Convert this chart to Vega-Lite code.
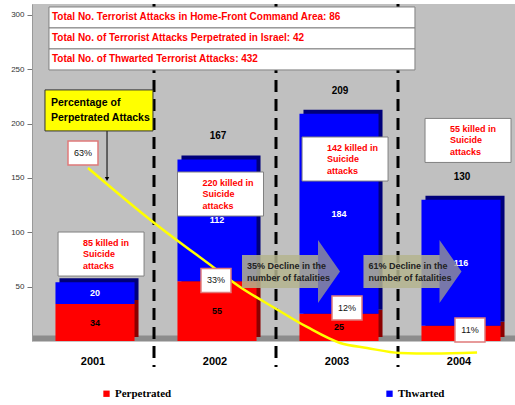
{
  "$schema": "https://vega.github.io/schema/vega-lite/v6.json",
  "width": 483,
  "height": 337,
  "autosize": {"type": "none"},
  "padding": {"left": 32, "top": 4, "right": 0, "bottom": 64},
  "background": "white",
  "config": {"view": {"fill": "#c0c0c0", "stroke": null}, "font": "Liberation Sans"},
  "datasets": {
    "bars": [
      {"year": "2001", "type": "Perpetrated", "count": 34},
      {"year": "2001", "type": "Thwarted", "count": 20},
      {"year": "2002", "type": "Perpetrated", "count": 55},
      {"year": "2002", "type": "Thwarted", "count": 112},
      {"year": "2003", "type": "Perpetrated", "count": 25},
      {"year": "2003", "type": "Thwarted", "count": 184},
      {"year": "2004", "type": "Perpetrated", "count": 14},
      {"year": "2004", "type": "Thwarted", "count": 116}
    ],
    "dividers": [{"u": 1, "v": 310}, {"u": 2, "v": 310}, {"u": 3, "v": 310}],
    "trend": [
      {"u": 0.459, "v": 159.2},
      {"u": 0.992, "v": 109.5},
      {"u": 1.484, "v": 68.1},
      {"u": 1.705, "v": 49.7},
      {"u": 1.975, "v": 31.3},
      {"u": 2.254, "v": 12.9},
      {"u": 2.525, "v": -1.8},
      {"u": 2.746, "v": -6.4},
      {"u": 3.016, "v": -11.0},
      {"u": 3.287, "v": -11.5},
      {"u": 3.648, "v": -10.6}
    ],
    "arrows": [
      {"u": 2.123, "v": 63.9, "label": "35% Decline in the\nnumber of fatalities"},
      {"u": 3.119, "v": 63.9, "label": "61% Decline in the\nnumber of fatalities"}
    ],
    "killed": [
      {"u": 0.566, "v": 80.0, "label": "85 killed in\nSuicide\nattacks"},
      {"u": 1.545, "v": 135.2, "label": "220 killed in\nSuicide\nattacks"},
      {"u": 2.566, "v": 167.4, "label": "142 killed in\nSuicide\nattacks"},
      {"u": 3.574, "v": 184.5, "label": "55 killed in\nSuicide\nattacks"}
    ],
    "pct": [
      {"u": 0.418, "v": 173.0, "label": "63%"},
      {"u": 1.508, "v": 55.7, "label": "33%"},
      {"u": 2.582, "v": 30.4, "label": "12%"},
      {"u": 3.59, "v": 10.1, "label": "11%"}
    ],
    "header": [
      {"u": 1.639, "v": 297.6, "label": "Total No. Terrorist Attacks in Home-Front Command Area: 86"},
      {"u": 1.639, "v": 278.3, "label": "Total No. of Terrorist Attacks Perpetrated in Israel: 42"},
      {"u": 1.639, "v": 259.0, "label": "Total No. of Thwarted Terrorist Attacks: 432"}
    ],
    "callout": [{"u": 0.549, "v": 212.1, "label": "Percentage of\nPerpetrated Attacks"}],
    "pointer": [{"u": 0.615, "v": 193.2, "v2": 149}]
  },
  "resolve": {"scale": {"x": "independent", "y": "independent"}},
  "layer": [
    {
      "data": {"name": "bars"},
      "layer": [
        {
          "mark": {"type": "bar", "xOffset": 6, "yOffset": -4},
          "encoding": {
            "x": {"field": "year", "type": "ordinal", "scale": {"range": [0, 488], "paddingInner": 0.352, "paddingOuter": 0.176},
              "axis": {"title": null, "labelAngle": 0, "labelFontSize": 11, "labelFontWeight": "bold", "labelColor": "#000", "ticks": false, "domainWidth": 6, "domainColor": "#8c8c8c", "offset": -3, "labelPadding": 17}},
            "y": {"field": "count", "type": "quantitative", "stack": "zero", "scale": {"domain": [0, 310], "nice": false},
              "axis": {"title": null, "values": [50, 100, 150, 200, 250, 300], "grid": false, "labelFontSize": 8, "labelColor": "#333", "tickSize": 5, "tickColor": "#777", "domainColor": "#999", "labelPadding": 3}},
            "detail": {"field": "type"},
            "order": {"field": "type", "sort": "ascending"},
            "fill": {"condition": {"test": "datum.type === 'Perpetrated'", "value": "#8b0000"}, "value": "#00007a"}
          }
        },
        {
          "mark": {"type": "bar", "xOffset": 2},
          "encoding": {
            "x": {"field": "year", "type": "ordinal"},
            "y": {"field": "count", "type": "quantitative", "stack": "zero"},
            "order": {"field": "type", "sort": "ascending"},
            "color": {"field": "type", "type": "nominal", "scale": {"domain": ["Perpetrated", "Thwarted"], "range": ["#ff0000", "#0000ff"]},
              "legend": {"title": null, "orient": "none", "legendX": 69, "legendY": 384, "direction": "horizontal", "symbolType": "square", "symbolSize": 40, "symbolStrokeWidth": 0, "labelFont": "Liberation Serif", "labelFontWeight": "bold", "labelFontSize": 11, "labelColor": "#000", "columnPadding": 212, "labelOffset": 3}}
          }
        },
        {
          "transform": [
            {"stack": "count", "groupby": ["year"], "sort": [{"field": "type", "order": "ascending"}], "as": ["y0", "y1"]},
            {"calculate": "(datum.y0 + datum.y1) / 2", "as": "mid"},
            {"filter": "!(datum.year === '2004' && datum.type === 'Perpetrated')"}
          ],
          "mark": {"type": "text", "dx": 2, "fontSize": 9, "fontWeight": "bold", "baseline": "middle"},
          "encoding": {
            "x": {"field": "year", "type": "ordinal"},
            "y": {"field": "mid", "type": "quantitative"},
            "text": {"field": "count"},
            "color": {"condition": {"test": "datum.type === 'Thwarted'", "value": "#ffffff"}, "value": "#000000"}
          }
        },
        {
          "transform": [
            {"aggregate": [{"op": "sum", "field": "count", "as": "total"}], "groupby": ["year"]},
            {"filter": "datum.year !== '2001'"}
          ],
          "mark": {"type": "text", "dx": 3, "dy": -23, "fontSize": 10, "fontWeight": "bold", "color": "#000", "baseline": "middle"},
          "encoding": {
            "x": {"field": "year", "type": "ordinal"},
            "y": {"field": "total", "type": "quantitative"},
            "text": {"field": "total"}
          }
        }
      ]
    },
    {
      "encoding": {
        "x": {"field": "u", "type": "quantitative", "scale": {"domain": [0, 3.959], "nice": false, "zero": false}, "axis": null},
        "y": {"field": "v", "type": "quantitative", "scale": {"domain": [0, 310], "nice": false, "zero": false}, "axis": null}
      },
      "layer": [
        {
          "data": {"name": "dividers"},
          "mark": {"type": "rule", "strokeDash": [12, 7], "strokeWidth": 3, "color": "#000"},
          "encoding": {"y2": {"datum": -24}}
        },
        {
          "data": {"name": "trend"},
          "mark": {"type": "line", "color": "#ffff00", "strokeWidth": 2.5, "interpolate": "monotone"},
          "encoding": {}
        },
        {
          "data": {"name": "arrows"},
          "mark": {"type": "point", "shape": "M-1,-0.337L0.551,-0.337L0.551,-0.643L1,0L0.551,0.643L0.551,0.337L-1,0.337Z", "size": 9604, "filled": true, "color": "#959595", "opacity": 0.8, "strokeWidth": 0}
        },
        {
          "data": {"name": "arrows"},
          "mark": {"type": "point", "shape": "M-1,-0.337L0.551,-0.337L0.551,0.337L-1,0.337Z", "size": 9604, "filled": true, "color": "#ffff80", "opacity": 0.25, "strokeWidth": 0}
        },
        {
          "data": {"name": "arrows"},
          "mark": {"type": "text", "align": "left", "baseline": "middle", "dx": -44, "dy": -6, "lineBreak": "\n", "lineHeight": 12, "fontSize": 9, "fontWeight": "bold", "color": "#222"},
          "encoding": {"text": {"field": "label"}}
        },
        {
          "data": {"name": "killed"},
          "mark": {"type": "point", "shape": "M-1,-0.512L1,-0.512L1,0.512L-1,0.512Z", "size": 7396, "filled": true, "fill": "#ffffff", "stroke": "#808080", "strokeWidth": 1, "opacity": 1}
        },
        {
          "data": {"name": "killed"},
          "mark": {"type": "text", "align": "left", "baseline": "middle", "dx": -18, "dy": -11.5, "lineBreak": "\n", "lineHeight": 11.5, "fontSize": 9, "fontWeight": "bold", "color": "#ff0000"},
          "encoding": {"text": {"field": "label"}}
        },
        {
          "data": {"name": "pct"},
          "mark": {"type": "point", "shape": "M-1,-0.8L1,-0.8L1,0.8L-1,0.8Z", "size": 900, "filled": true, "fill": "#ffffff", "stroke": "#e07a7a", "strokeWidth": 1.5, "opacity": 1}
        },
        {
          "data": {"name": "pct"},
          "mark": {"type": "text", "align": "center", "baseline": "middle", "fontSize": 9, "color": "#111"},
          "encoding": {"text": {"field": "label"}}
        },
        {
          "data": {"name": "header"},
          "mark": {"type": "point", "shape": "M-1,-0.0574L1,-0.0574L1,0.0574L-1,0.0574Z", "size": 133956, "filled": true, "fill": "#ffffff", "stroke": "#808080", "strokeWidth": 1, "opacity": 1}
        },
        {
          "data": {"name": "header"},
          "mark": {"type": "text", "align": "left", "baseline": "middle", "dx": -180, "fontSize": 10, "fontWeight": "bold", "color": "#ff0000"},
          "encoding": {"text": {"field": "label"}}
        },
        {
          "data": {"name": "pointer"},
          "mark": {"type": "rule", "color": "#000", "strokeWidth": 1},
          "encoding": {"y2": {"field": "v2"}}
        },
        {
          "data": {"name": "pointer"},
          "mark": {"type": "point", "shape": "triangle-down", "size": 20, "filled": true, "color": "#000", "opacity": 1},
          "encoding": {"y": {"field": "v2", "type": "quantitative"}}
        },
        {
          "data": {"name": "callout"},
          "mark": {"type": "point", "shape": "M-1,-0.38L1,-0.38L1,0.38L-1,0.38Z", "size": 11664, "filled": true, "fill": "#ffff00", "stroke": "#333", "strokeWidth": 1, "opacity": 1}
        },
        {
          "data": {"name": "callout"},
          "mark": {"type": "text", "align": "left", "baseline": "middle", "dx": -48, "dy": -7.5, "lineBreak": "\n", "lineHeight": 15, "fontSize": 10.5, "fontWeight": "bold", "color": "#000"},
          "encoding": {"text": {"field": "label"}}
        }
      ]
    }
  ]
}
